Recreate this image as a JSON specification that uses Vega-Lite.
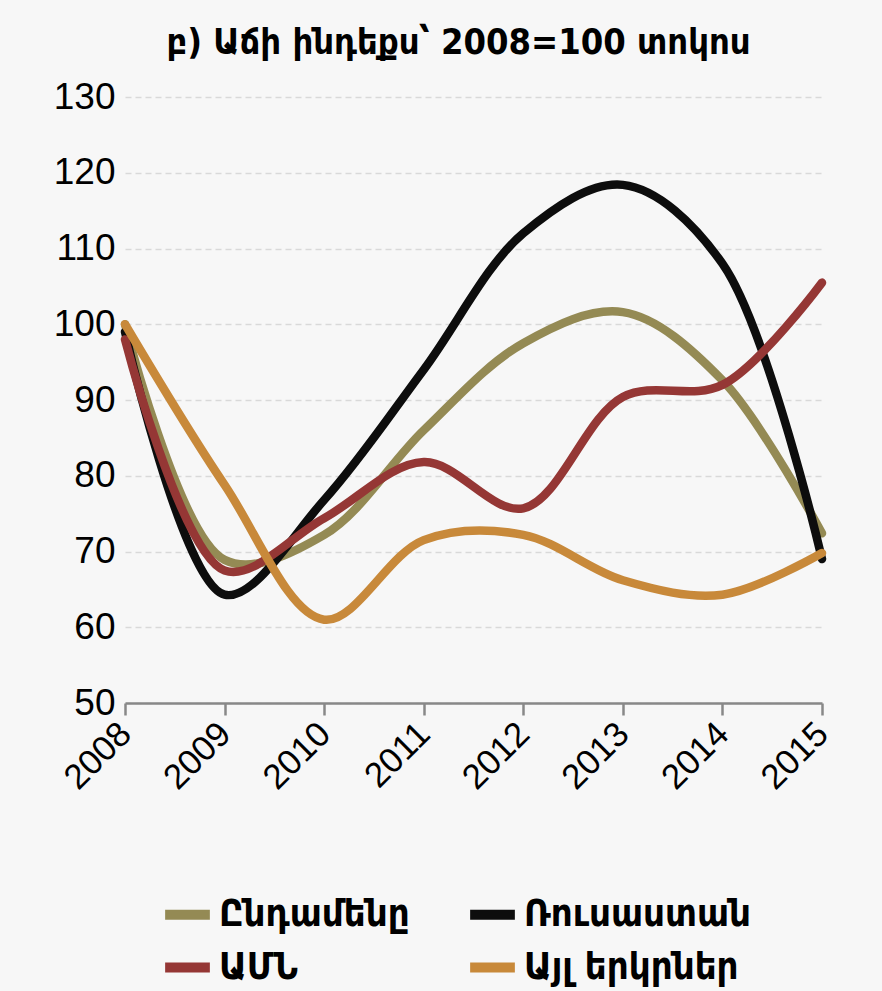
{
  "$schema": "https://vega.github.io/schema/vega-lite/v6.json",
  "autosize": "none",
  "width": 697,
  "height": 606,
  "padding": {"left": 125, "top": 97, "right": 60, "bottom": 288},
  "background": "#f7f7f7",
  "title": {
    "text": "բ) Աճի ինդեքս՝ 2008=100 տոկոս",
    "font": "DejaVu Sans Condensed",
    "fontSize": 36,
    "fontWeight": "bold",
    "color": "#000000",
    "anchor": "middle",
    "offset": 16,
    "dx": -15
  },
  "config": {
    "view": {"stroke": null},
    "axis": {"labelFont": "Liberation Sans", "labelColor": "#000000"}
  },
  "data": {
    "values": [
      {"year": 2008, "series": "Ընդամենը", "value": 100},
      {"year": 2009, "series": "Ընդամենը", "value": 68.9},
      {"year": 2010, "series": "Ընդամենը", "value": 72.2},
      {"year": 2011, "series": "Ընդամենը", "value": 86},
      {"year": 2012, "series": "Ընդամենը", "value": 97.5},
      {"year": 2013, "series": "Ընդամենը", "value": 101.6},
      {"year": 2014, "series": "Ընդամենը", "value": 92.6},
      {"year": 2015, "series": "Ընդամենը", "value": 72.4},
      {"year": 2008, "series": "Ռուսաստան", "value": 99},
      {"year": 2009, "series": "Ռուսաստան", "value": 64.3},
      {"year": 2010, "series": "Ռուսաստան", "value": 76.8},
      {"year": 2011, "series": "Ռուսաստան", "value": 94},
      {"year": 2012, "series": "Ռուսաստան", "value": 112},
      {"year": 2013, "series": "Ռուսաստան", "value": 118.4},
      {"year": 2014, "series": "Ռուսաստան", "value": 108},
      {"year": 2015, "series": "Ռուսաստան", "value": 69},
      {"year": 2008, "series": "ԱՄՆ", "value": 98},
      {"year": 2009, "series": "ԱՄՆ", "value": 67.5},
      {"year": 2010, "series": "ԱՄՆ", "value": 74.4},
      {"year": 2011, "series": "ԱՄՆ", "value": 81.8},
      {"year": 2012, "series": "ԱՄՆ", "value": 75.7},
      {"year": 2013, "series": "ԱՄՆ", "value": 90.4},
      {"year": 2014, "series": "ԱՄՆ", "value": 92},
      {"year": 2015, "series": "ԱՄՆ", "value": 105.5},
      {"year": 2008, "series": "Այլ երկրներ", "value": 100},
      {"year": 2009, "series": "Այլ երկրներ", "value": 78.8},
      {"year": 2010, "series": "Այլ երկրներ", "value": 61},
      {"year": 2011, "series": "Այլ երկրներ", "value": 71.5},
      {"year": 2012, "series": "Այլ երկրներ", "value": 72.2},
      {"year": 2013, "series": "Այլ երկրներ", "value": 66.2},
      {"year": 2014, "series": "Այլ երկրներ", "value": 64.3},
      {"year": 2015, "series": "Այլ երկրներ", "value": 69.8}
    ]
  },
  "mark": {"type": "line", "interpolate": "catmull-rom", "strokeWidth": 8.5, "strokeCap": "round", "clip": false},
  "encoding": {
    "x": {
      "field": "year",
      "type": "quantitative",
      "scale": {"domain": [2008, 2015], "nice": false, "zero": false},
      "axis": {
        "title": null,
        "values": [2008, 2009, 2010, 2011, 2012, 2013, 2014, 2015],
        "format": "d",
        "grid": false,
        "domainColor": "#888888",
        "domainWidth": 2.5,
        "tickColor": "#888888",
        "tickWidth": 2.5,
        "tickSize": 12,
        "labelAngle": -45,
        "labelAlign": "right",
        "labelBaseline": "middle",
        "labelFontSize": 35,
        "labelPadding": 13,
        "labelFlush": false
      }
    },
    "y": {
      "field": "value",
      "type": "quantitative",
      "scale": {"domain": [50, 130], "nice": false, "zero": false},
      "axis": {
        "title": null,
        "values": [50, 60, 70, 80, 90, 100, 110, 120, 130],
        "domain": false,
        "ticks": false,
        "grid": true,
        "gridColor": "#d9d9d9",
        "gridDash": [6, 4],
        "gridWidth": 1.5,
        "labelFontSize": 37,
        "labelPadding": 10,
        "labelFlush": false
      }
    },
    "color": {
      "field": "series",
      "type": "nominal",
      "scale": {
        "domain": ["Ընդամենը", "ԱՄՆ", "Ռուսաստան", "Այլ երկրներ"],
        "range": ["#948a54", "#953735", "#0d0d0d", "#c8893a"]
      },
      "legend": {
        "title": null,
        "orient": "none",
        "legendX": 35,
        "legendY": 790,
        "columns": 2,
        "columnPadding": 40,
        "rowPadding": 5,
        "symbolType": "stroke",
        "symbolStrokeWidth": 10,
        "symbolSize": 2000,
        "labelFont": "DejaVu Sans Condensed",
        "labelFontSize": 38,
        "labelFontWeight": "bold",
        "labelColor": "#000000",
        "labelLimit": 400
      }
    }
  }
}
